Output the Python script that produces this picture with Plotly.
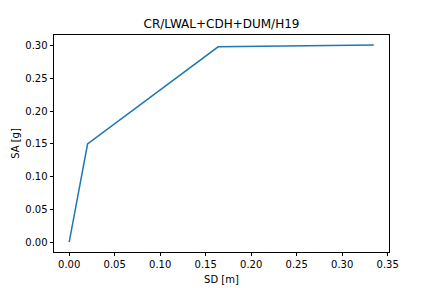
import plotly.graph_objects as go

sd = [0.0, 0.0202, 0.1637, 0.3348]
sa = [0.0, 0.150, 0.2985, 0.3015]
title = "CR/LWAL+CDH+DUM/H19"
xlabel = "SD [m]"
ylabel = "SA [g]"

fig = go.Figure()
fig.add_trace(go.Scatter(x=sd, y=sa, mode="lines",
                         line=dict(color="#1f77b4", width=1.5)))

font = "DejaVu Sans, sans-serif"
axis_common = dict(
    showgrid=False, zeroline=False, showline=True, mirror=True,
    linecolor="black", linewidth=0.8, ticks="outside", ticklen=3.5,
    tickwidth=0.8, tickcolor="black", tickfont=dict(family=font, size=10, color="black"),
    tickformat=".2f", automargin=False,
)
fig.update_layout(
    width=432, height=288,
    margin=dict(l=54, r=43, t=35, b=36),
    paper_bgcolor="white", plot_bgcolor="white",
    showlegend=False,
    title=dict(text=title, x=(54 + 389) / 2 / 432, xanchor="center",
               y=1 - 24 / 288, yanchor="middle", yref="container",
               font=dict(family=font, size=12, color="black")),
    xaxis=dict(axis_common, range=[-0.0167, 0.3515], dtick=0.05, tick0=0,
               title=dict(text=xlabel, font=dict(family=font, size=10, color="black"), standoff=6)),
    yaxis=dict(axis_common, range=[-0.0151, 0.3166], dtick=0.05, tick0=0,
               title=dict(text=ylabel, font=dict(family=font, size=10, color="black"), standoff=3.5)),
)
fig.write_html("out.html")
